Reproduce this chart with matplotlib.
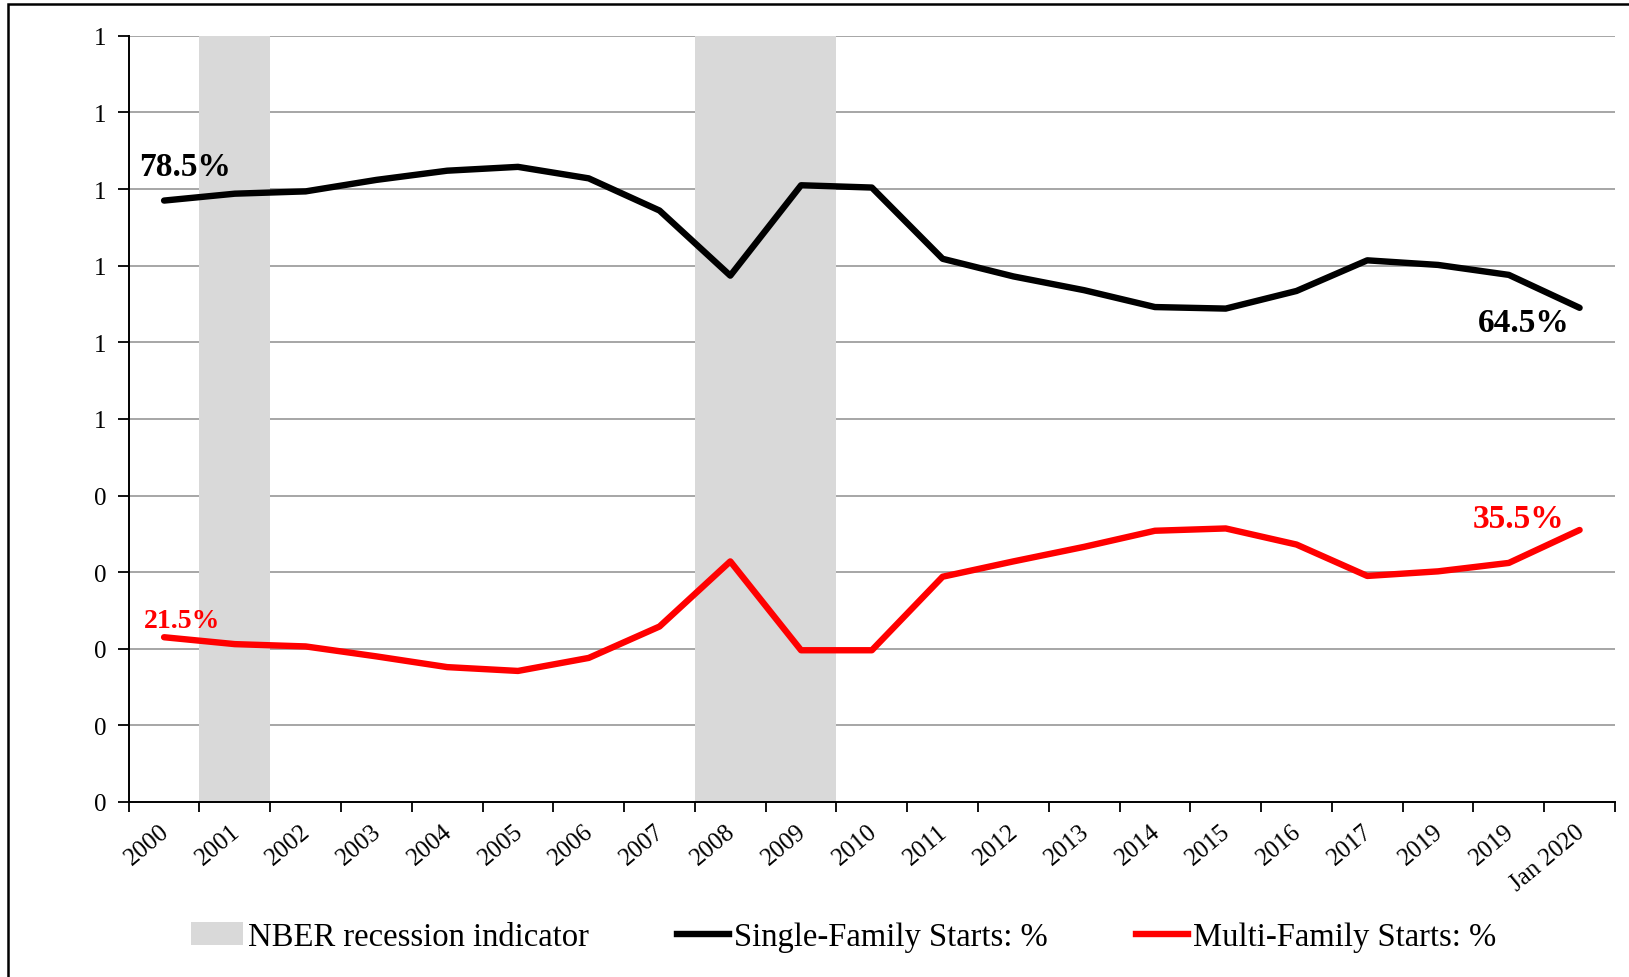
import matplotlib
matplotlib.use('Agg')
import matplotlib.pyplot as plt
import matplotlib.transforms as mtransforms
from matplotlib.patches import Patch, Rectangle
from matplotlib.lines import Line2D


categories = ['2000', '2001', '2002', '2003', '2004', '2005', '2006', '2007',
              '2008', '2009', '2010', '2011', '2012', '2013', '2014', '2015',
              '2016', '2017', '2019', '2019', 'Jan 2020']

single_family = [0.785, 0.794, 0.797, 0.812, 0.824, 0.829, 0.814, 0.772,
                 0.687, 0.805, 0.802, 0.709, 0.686, 0.668, 0.646, 0.644,
                 0.667, 0.707, 0.701, 0.688, 0.645]

multi_family = [0.215, 0.206, 0.203, 0.190, 0.176, 0.171, 0.188, 0.229,
                0.314, 0.198, 0.198, 0.294, 0.314, 0.333, 0.354, 0.357,
                0.336, 0.295, 0.301, 0.312, 0.355]

# recession periods, given as (first category, last category)
recessions = [('2001', '2001'), ('2008', '2009')]

y_ticks = [0.0, 0.1, 0.2, 0.3, 0.4, 0.5, 0.6, 0.7, 0.8, 0.9, 1.0]
y_tick_labels = ['0', '0', '0', '0', '0', '1', '1', '1', '1', '1', '1']

plt.rcParams['font.family'] = ['Liberation Serif', 'DejaVu Serif']

fig = plt.figure(figsize=(16.29, 9.78), dpi=100)
ax = fig.add_axes([0.079, 0.179, 0.9124, 0.7833])

x = list(range(len(categories)))
rec_color = '#d9d9d9'

for start, end in recessions:
    i0 = categories.index(start)
    i1 = categories.index(end)
    ax.axvspan(i0 - 0.5, i1 + 0.5, color=rec_color, lw=0, zorder=1)

for yt in y_ticks[1:]:
    ax.axhline(yt, color='#a6a6a6', lw=1.4, zorder=0)

ax.plot(x, single_family, color='black', lw=4.6, solid_capstyle='round',
        solid_joinstyle='round', zorder=3)
ax.plot(x, multi_family, color='#ff0000', lw=4.6, solid_capstyle='round',
        solid_joinstyle='round', zorder=3)

ax.set_xlim(-0.5, len(categories) - 0.5)
ax.set_ylim(0, 1)

# category boundaries as tick marks, labels at centres
ax.set_xticks([i - 0.5 for i in range(len(categories) + 1)])
ax.set_xticklabels([])
ax.set_xticks(x, minor=True)
ax.set_xticklabels(categories, minor=True, rotation=40, ha='right', va='top',
                   rotation_mode='anchor', fontsize=18)
ax.tick_params(axis='x', which='major', direction='out', length=7, width=1.3)
ax.tick_params(axis='x', which='minor', length=0, pad=13)
shift = mtransforms.ScaledTranslation(-5 / 100, 0, fig.dpi_scale_trans)
for lbl in ax.get_xticklabels(minor=True):
    lbl.set_transform(lbl.get_transform() + shift)

ax.set_yticks(y_ticks)
ax.set_yticklabels(y_tick_labels, fontsize=18)
ax.tick_params(axis='y', direction='out', length=8, width=1.3, pad=8)

for side in ['top', 'right']:
    ax.spines[side].set_visible(False)
for side in ['left', 'bottom']:
    ax.spines[side].set_linewidth(1.4)

# end-point labels
ax.annotate('78.5%', xy=(0, single_family[0]), xytext=(21, 34),
            textcoords='offset pixels', ha='center', va='center',
            fontsize=24, fontweight='bold', color='black')
ax.annotate('64.5%', xy=(x[-1], single_family[-1]), xytext=(-56, -15),
            textcoords='offset pixels', ha='center', va='center',
            fontsize=24, fontweight='bold', color='black')
ax.annotate('21.5%', xy=(0, multi_family[0]), xytext=(18, 17),
            textcoords='offset pixels', ha='center', va='center',
            fontsize=20, fontweight='bold', color='#ff0000')
ax.annotate('35.5%', xy=(x[-1], multi_family[-1]), xytext=(-61, 11),
            textcoords='offset pixels', ha='center', va='center',
            fontsize=24, fontweight='bold', color='#ff0000')

handles = [
    Patch(facecolor=rec_color, edgecolor='none', label='NBER recession indicator'),
    Line2D([0], [0], color='black', lw=4.6, label='Single-Family Starts: %'),
    Line2D([0], [0], color='#ff0000', lw=4.6, label='Multi-Family Starts: %'),
]
fig.legend(handles=handles, loc='center', bbox_to_anchor=(0.518, 0.041),
           ncol=3, frameon=False, fontsize=23.5, handlelength=1.6,
           handletextpad=0.15, columnspacing=2.7)

# outer chart frame (top and left edges visible)
fig.patches.append(Rectangle((8 / 1629, -0.02), 1.05, 1.02 - 5 / 978,
                             transform=fig.transFigure, fill=False,
                             edgecolor='black', lw=1.8))

fig.savefig('out.png', dpi=100)
